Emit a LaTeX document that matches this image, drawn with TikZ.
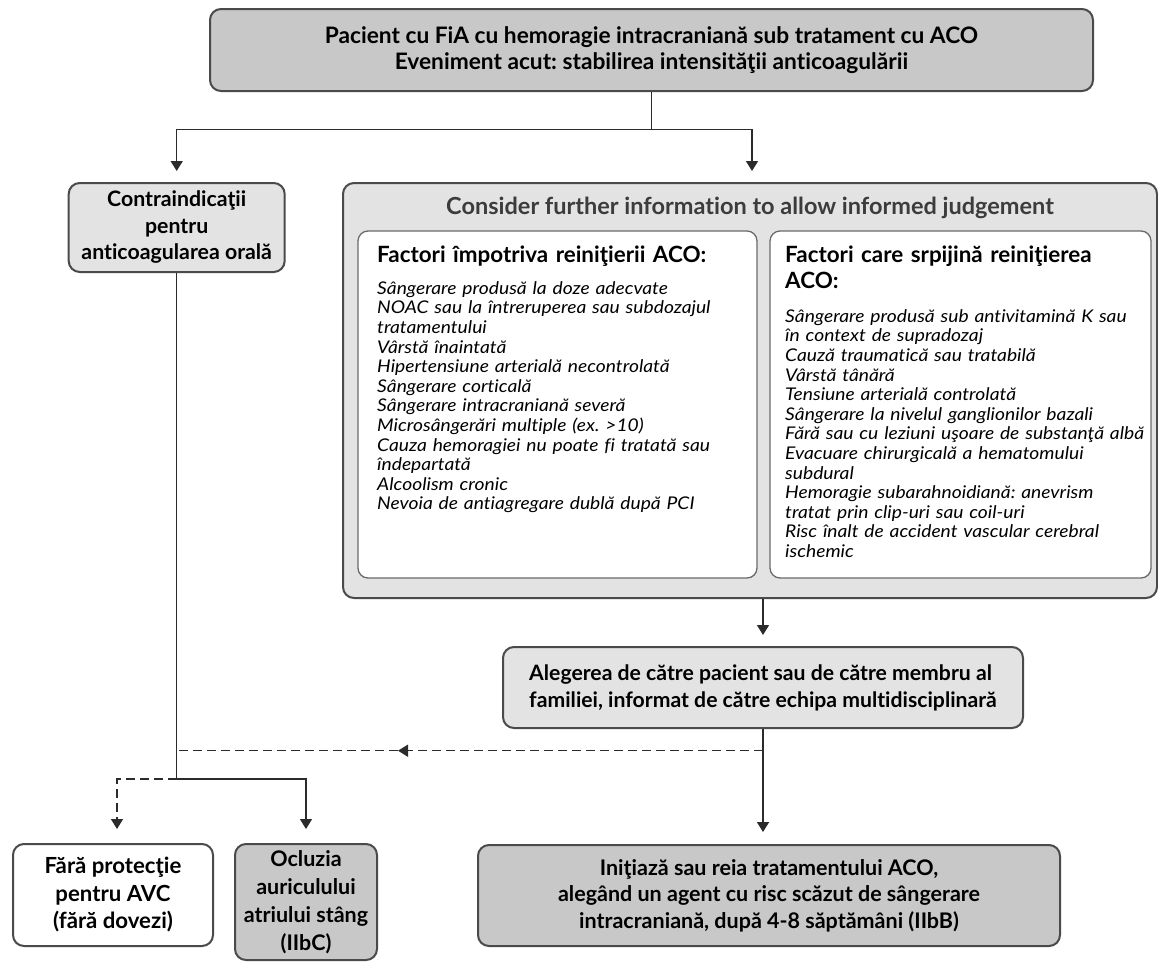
\documentclass[tikz,border=0pt]{standalone}
\usepackage{fontspec}
\setmainfont{Lato}[Ligatures=NoCommon]
\newfontfamily\listfamily{Lato}[Ligatures=NoCommon, FakeStretch=1.1]
\usetikzlibrary{arrows.meta}
\frenchspacing

\definecolor{darkfill}{HTML}{C8C8C8}
\definecolor{lightfill}{HTML}{E3E3E3}
\definecolor{boxline}{HTML}{4A4A4A}
\definecolor{innerline}{HTML}{6A6A6A}
\definecolor{wire}{HTML}{2B2B2B}
\definecolor{titlegray}{HTML}{3C3C3C}

% bold box text: size and line distance
\newcommand\boldtext[2]{\fontsize{#1}{#2}\selectfont\bfseries}
\newcommand\listfont{\listfamily\fontsize{17.5}{19.6}\selectfont\itshape}

\begin{document}
\begin{tikzpicture}[x=1pt,y=-1pt,
  panel/.style={draw=boxline, line width=2pt, rounded corners=11pt, inner sep=0pt, align=center,
    font=\boldtext{21.5}{27}},
  darkpanel/.style={panel, fill=darkfill},
  lightpanel/.style={panel, fill=lightfill},
  whitepanel/.style={panel, fill=white},
  innerpanel/.style={draw=innerline, line width=1.3pt, rounded corners=10pt, fill=white, inner sep=0pt},
  headtext/.style={anchor=north west, inner sep=0pt, align=left, text width=#1, font=\boldtext{22.4}{26}},
  listtext/.style={anchor=north west, inner sep=0pt, align=left, text width=#1, font=\listfont},
  wireline/.style={draw=wire, line width=1.5pt},
  arrowline/.style={wireline, -{Triangle[length=10pt,width=12pt]}},
  dashline/.style={wireline, dash pattern=on 9pt off 5pt},
  dasharrow/.style={dashline, -{Triangle[length=10pt,width=12pt]}}
]
\useasboundingbox (0,0) rectangle (1158,961);
\fill[white] (0,0) rectangle (1158,961);

% ---- top event ----
\node[darkpanel, minimum width=883pt, minimum height=82pt, font=\boldtext{22.7}{26.5}] (event) at (651.5,50)
  {Pacient cu FiA cu hemoragie intracraniană sub tratament cu ACO\\
   Eveniment acut: stabilirea intensităţii anticoagulării};

% ---- contraindications ----
\node[lightpanel, minimum width=216pt, minimum height=89pt, font=\boldtext{21.3}{26.5}] (contra) at (176.7,227.5)
  {Contraindicaţii\\pentru\\anticoagularea orală};

% ---- further information panel ----
\node[lightpanel, minimum width=814pt, minimum height=415pt] (further) at (750,390.5) {};
\node[font=\boldtext{23.5}{27}, text=titlegray, anchor=base, inner sep=0pt] (furthertitle) at (750,214)
  {Consider further information to allow informed judgement};

\node[innerpanel, minimum width=399pt, minimum height=347pt] (against) at (557.5,404.5) {};
\node[innerpanel, minimum width=381pt, minimum height=347pt] (favour) at (960.5,404.5) {};

\node[headtext=370pt] (againsthead) at (377,243.8) {\strut Factori împotriva reiniţierii ACO:};
\node[listtext=375pt] (againstlist) at (377,280.3)
  {\strut Sângerare produsă la doze adecvate\\
   NOAC sau la întreruperea sau subdozajul\\
   tratamentului\\
   Vârstă înaintată\\
   Hipertensiune arterială necontrolată\\
   Sângerare corticală\\
   Sângerare intracraniană severă\\
   Microsângerări multiple (ex. >10)\\
   Cauza hemoragiei nu poate fi tratată sau\\
   îndepartată\\
   Alcoolism cronic\\
   Nevoia de antiagregare dublă după PCI};

\node[headtext=360pt] (favourhead) at (785,243.8) {\strut Factori care srpijină reiniţierea\\ACO:};
\node[listtext=368pt] (favourlist) at (785,308.3)
  {\strut Sângerare produsă sub antivitamină K sau\\
   în context de supradozaj\\
   Cauză traumatică sau tratabilă\\
   Vârstă tânără\\
   Tensiune arterială controlată\\
   Sângerare la nivelul ganglionilor bazali\\
   Fără sau cu leziuni uşoare de substanţă albă\\
   Evacuare chirurgicală a hematomului\\
   subdural\\
   Hemoragie subarahnoidiană: anevrism\\
   tratat prin clip-uri sau coil-uri\\
   Risc înalt de accident vascular cerebral\\
   ischemic};

% ---- patient choice ----
\node[lightpanel, minimum width=520pt, minimum height=81pt, align=left, font=\boldtext{21.2}{27}] (choice) at (763,687.5)
  {Alegerea de către pacient sau de către membru al\\
   familiei, informat de către echipa multidisciplinară};

% ---- outcomes ----
\node[whitepanel, minimum width=200pt, minimum height=102pt, font=\boldtext{22.2}{27.5}] (noprot) at (113,895)
  {Fără protecţie\\pentru AVC\\(fără dovezi)};
\node[darkpanel, minimum width=142pt, minimum height=116pt, font=\boldtext{21.5}{28}] (occl) at (306,902)
  {Ocluzia\\auriculului\\atriului stâng\\(IIbC)};
\node[darkpanel, minimum width=582pt, minimum height=101pt, font=\boldtext{21.5}{26.5}] (restart) at (769,895.5)
  {Iniţiază sau reia tratamentului ACO,\\
   alegând un agent cu risc scăzut de sângerare\\
   intracraniană, după 4-8 săptămâni (IIbB)};

% ---- connectors ----
\coordinate (split) at (651.5,129.5);
\draw[wireline] (event.south) -- (split);
\draw[arrowline] (split) -| ([yshift=11pt]contra.north);
\draw[arrowline] (split) -| ([xshift=2pt,yshift=11pt]further.north);

\draw[arrowline] (choice.north |- further.south) -- ([yshift=11pt]choice.north);
\draw[arrowline] (choice.south) -- ([yshift=12pt]choice.south |- restart.north);

\coordinate (dashstart) at (763,750.7);
\coordinate (dashmid) at (398,750.7);
\coordinate (dashend) at (176.7,750.7);
\draw[dasharrow] (dashstart) -- (dashmid);
\draw[dashline] (dashmid) -- (dashend);

\coordinate (branch) at (176.7,779);
\draw[wireline] (contra.south) -- (branch);
\draw[arrowline] (branch) -| ([yshift=14pt]occl.north);
\draw[dasharrow] (branch) -| ([xshift=4pt,yshift=14pt]noprot.north);
\end{tikzpicture}
\end{document}
